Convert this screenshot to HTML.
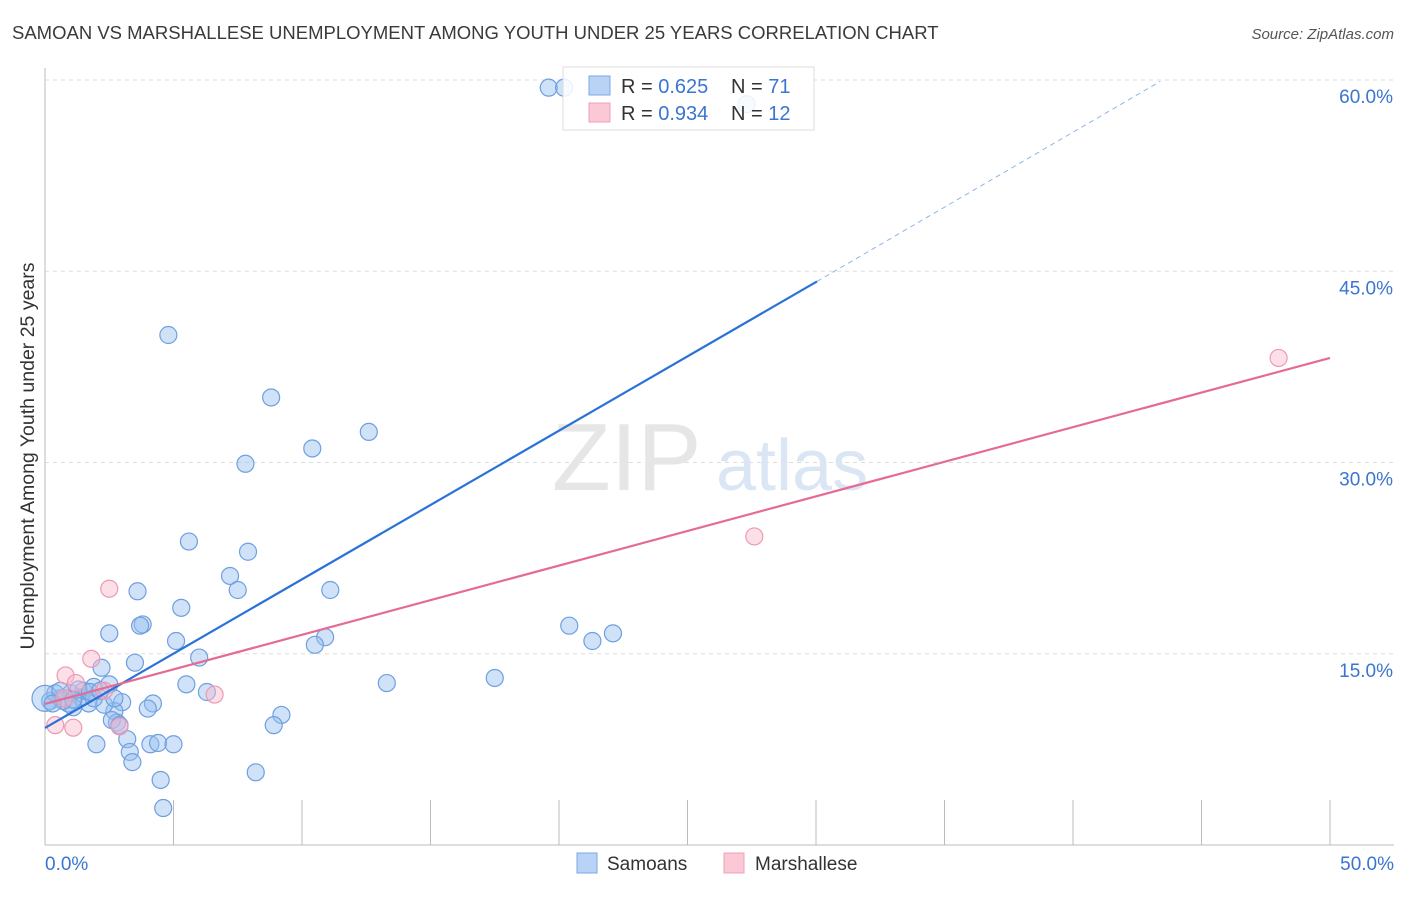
<!DOCTYPE html>
<html><head><meta charset="utf-8"><style>
body{margin:0;background:#fff;font-family:"Liberation Sans",sans-serif}
svg text{font-family:"Liberation Sans",sans-serif}
</style></head><body>
<svg width="1406" height="892" viewBox="0 0 1406 892">
<text x="12" y="39" font-size="18.5" fill="#3a3a3a">SAMOAN VS MARSHALLESE UNEMPLOYMENT AMONG YOUTH UNDER 25 YEARS CORRELATION CHART</text>
<text x="1394" y="39" font-size="15" fill="#555" text-anchor="end" font-style="italic">Source: ZipAtlas.com</text>
<g id="grid"></g>
<text x="552" y="490" font-size="96" fill="#e6e6e6" font-family="Liberation Serif">ZIP</text>
<text x="716" y="490" font-size="72" fill="#dbe6f5">atlas</text>
<g id="pts"></g>
<g id="lines"></g>
<text transform="translate(34,456) rotate(-90)" font-size="19.5" fill="#333" text-anchor="middle">Unemployment Among Youth under 25 years</text>
<g>
<rect x="563" y="67" width="251" height="63" fill="rgba(255,255,255,0.85)" stroke="#ddd"/>
<rect x="589" y="76" width="21" height="19" fill="#b8d3f5" stroke="#7aa7e6"/>
<rect x="589" y="103" width="21" height="19" fill="#fbc8d6" stroke="#eea0b8"/>
<text x="621" y="93" font-size="20" fill="#333">R = <tspan fill="#3a75d0">0.625</tspan></text>
<text x="731" y="93" font-size="20" fill="#333">N = <tspan fill="#3a75d0">71</tspan></text>
<text x="621" y="120" font-size="20" fill="#333">R = <tspan fill="#3a75d0">0.934</tspan></text>
<text x="731" y="120" font-size="20" fill="#333">N = <tspan fill="#3a75d0">12</tspan></text>
</g>
<g>
<rect x="577" y="853" width="20" height="20" fill="#b8d3f5" stroke="#7aa7e6"/>
<text x="607" y="870" font-size="19" fill="#333">Samoans</text>
<rect x="724" y="853" width="20" height="20" fill="#fbc8d6" stroke="#eea0b8"/>
<text x="755" y="870" font-size="19" fill="#333">Marshallese</text>
</g>
</svg>
<script>
const yTicks=[15,30,45,60];
const yTickLabels=["15.0%","30.0%","45.0%","60.0%"];
const xTicks=[0,5,10,15,20,25,30,35,40,45,50];
const samoanX=[19.6,20.2,27.3,4.8,8.8,10.4,12.6,7.8,5.6,7.9,7.2,7.5,3.6,11.1,5.3,2.5,3.8,3.7,5.1,10.9,10.5,6.0,3.5,2.2,20.4,21.3,22.1,17.5,13.3,5.5,6.3,9.2,8.9,4.2,4.0,3.0,2.7,2.8,2.0,3.2,3.3,3.4,4.1,4.4,5.0,4.5,4.6,8.2,1.7,2.3,1.4,1.0,0.6,0.2,0.4,0.9,1.1,1.5,1.9,2.5,1.9,0.7,0.0,1.3,2.6,2.9,0.6,1.1,0.3,2.7,1.75,2.15];
const samoanY=[59.4,59.4,58.1,40.0,35.1,31.1,32.4,29.9,23.8,23.0,21.1,20.0,19.9,20.0,18.6,16.6,17.3,17.2,16.0,16.3,15.7,14.7,14.3,13.9,17.2,16.0,16.6,13.1,12.7,12.6,12.0,10.2,9.4,11.1,10.7,11.2,10.5,9.6,7.9,8.3,7.3,6.5,7.9,8.0,7.9,5.1,2.9,5.7,11.1,11.0,11.6,11.9,11.5,11.3,11.9,11.1,10.8,12.1,12.4,12.6,11.5,11.3,11.5,12.2,9.8,9.4,12.1,11.4,11.1,11.5,12.0,12.1];
const marshX=[48.0,27.6,2.5,1.8,0.8,1.2,6.6,2.9,1.1,0.4,2.3,0.75];
const marshY=[38.2,24.2,20.1,14.6,13.3,12.7,11.8,9.3,9.2,9.4,12.1,11.5];
const blueFit=[[0,9.18],[30.04,44.2]];
const blueDash=[30.04,44.2,43.4,59.9];
const pinkFit=[[0,11.06],[50,38.2]];
const NS='http://www.w3.org/2000/svg';
const X=v=>45+v*25.7, Y=v=>845-v*12.75;
function mk(t,a,p){const e=document.createElementNS(NS,t);for(const k in a)e.setAttribute(k,a[k]);p.appendChild(e);return e;}
const grid=document.getElementById('grid');
yTicks.forEach((t,i)=>{
 const l=mk('line',{x1:45,x2:1394,y1:Y(t),y2:Y(t),stroke:'#ddd','stroke-dasharray':'4,4'},grid);
 
 
 const tx=mk('text',{x:1393,y:Y(t)+23,'font-size':19,fill:'#3a75d0','text-anchor':'end'},grid);
 tx.textContent=yTickLabels[i];
 
 
});
mk('line',{x1:45,x2:45,y1:68,y2:845,stroke:'#bbb'},grid);
mk('line',{x1:45,x2:1394,y1:845,y2:845,stroke:'#bbb'},grid);
xTicks.forEach(t=>{if(t>0){const l=mk('line',{x1:X(t),x2:X(t),y1:800,y2:845,stroke:'#bbb'},grid);
 
 }});
let a=mk('text',{x:45,y:870,'font-size':19,fill:'#3a75d0'},grid);a.textContent='0.0%';


a=mk('text',{x:1394,y:870,'font-size':19,fill:'#3a75d0','text-anchor':'end'},grid);a.textContent='50.0%';


const pts=document.getElementById('pts');
samoanX.forEach((x,i)=>{const c=mk('circle',{cx:X(x),cy:Y(samoanY[i]),r:i==62?13:8.5,fill:'rgba(150,190,240,0.45)',stroke:'#6f9fe0','stroke-width':1.2},pts);
 
 });
marshX.forEach((x,i)=>{const c=mk('circle',{cx:X(x),cy:Y(marshY[i]),r:8.5,fill:'rgba(250,185,205,0.45)',stroke:'#eb9ab4','stroke-width':1.2},pts);
 
 });
const lg=document.getElementById('lines');
let l=mk('line',{x1:X(blueFit[0][0]),y1:Y(blueFit[0][1]),x2:X(blueFit[1][0]),y2:Y(blueFit[1][1]),stroke:'#2a72d8','stroke-width':2.2},lg);


l=mk('line',{x1:X(blueDash[0]),y1:Y(blueDash[1]),x2:X(blueDash[2]),y2:Y(blueDash[3]),stroke:'#8fb4e8','stroke-width':1,'stroke-dasharray':'5,4'},lg);


l=mk('line',{x1:X(pinkFit[0][0]),y1:Y(pinkFit[0][1]),x2:X(pinkFit[1][0]),y2:Y(pinkFit[1][1]),stroke:'#e56b94','stroke-width':2.2},lg);


</script>
</body></html>
